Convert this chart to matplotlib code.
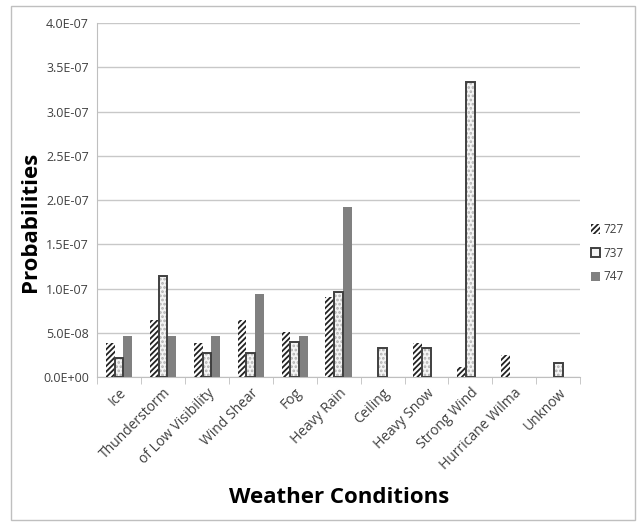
import numpy as np
import matplotlib
matplotlib.use("Agg")
import matplotlib.pyplot as plt
from matplotlib.patches import Rectangle, Patch

plt.rcParams['font.family'] = ['Open Sans', 'DejaVu Sans']
plt.rcParams['hatch.linewidth'] = 1.3

# Данные
categories = ['Ice', 'Thunderstorm', 'of Low Visibility', 'Wind Shear', 'Fog',
              'Heavy Rain', 'Ceiling', 'Heavy Snow', 'Strong Wind',
              'Hurricane Wilma', 'Unknow']
p727 = [3.83e-8, 6.43e-8, 3.83e-8, 6.43e-8, 5.1e-8, 9.0e-8, 0, 3.83e-8, 1.2e-8, 2.45e-8, 0]
p737 = [2.2e-8, 11.4e-8, 2.75e-8, 2.75e-8, 3.95e-8, 9.6e-8, 3.3e-8, 3.3e-8, 33.4e-8, 0, 1.65e-8]
p747 = [4.66e-8, 4.66e-8, 4.66e-8, 9.43e-8, 4.66e-8, 19.2e-8, 0, 0, 0, 0, 0]
y_ticks = [0, 0.5e-7, 1.0e-7, 1.5e-7, 2.0e-7, 2.5e-7, 3.0e-7, 3.5e-7, 4.0e-7]
y_labels = ['0.0E+00', '5.0E-08', '1.0E-07', '1.5E-07', '2.0E-07',
            '2.5E-07', '3.0E-07', '3.5E-07', '4.0E-07']

fig = plt.figure(figsize=(6.39, 5.26), dpi=100)
ax = fig.add_axes([0.152, 0.283, 0.756, 0.673])

# рамка вокруг всей диаграммы
fig.patches.append(Rectangle((11 / 639, 6 / 526), 624 / 639, 514 / 526,
                             transform=fig.transFigure, fill=False,
                             edgecolor='#bfbfbf', linewidth=1))

x = np.arange(len(categories))
w = 0.2
ax.bar(x - w, p727, w, color='white', edgecolor='#222222', hatch='//////',
       linewidth=0, zorder=3)
# 737: светлая точечная заливка + тёмный контур
ax.bar(x, p737, w, color='#f4f4f4', edgecolor='#b0b0b0', hatch='....',
       linewidth=0, zorder=3)
ax.bar(x, p737, w, fill=False, edgecolor='#404040',
       linewidth=[1.4 if v > 0 else 0 for v in p737], zorder=4)
ax.bar(x + w, p747, w, color='#808080', linewidth=0, zorder=3)

ax.set_xlim(-0.5, len(categories) - 0.5)
ax.set_ylim(0, 4.0e-7)
ax.set_yticks(y_ticks)
ax.set_yticklabels(y_labels, fontsize=9, color='#404040')
ax.tick_params(axis='y', length=0, pad=6)
ax.yaxis.grid(True, color='#c8c8c8', linewidth=1, zorder=0)

ax.set_xticks(np.arange(len(categories) + 1) - 0.5, minor=True)
ax.set_xticks(x)
ax.set_xticklabels(categories, rotation=45, ha='right', rotation_mode='anchor',
                   fontsize=10, color='#404040')
ax.tick_params(axis='x', which='major', length=0, pad=6)
ax.tick_params(axis='x', which='minor', length=5, color='#bfbfbf')

for s in ['top', 'right']:
    ax.spines[s].set_visible(False)
ax.spines['left'].set_color('#bfbfbf')
ax.spines['bottom'].set_color('#bfbfbf')

ax.set_ylabel('Probabilities', fontsize=16, fontweight='bold')
ax.yaxis.set_label_coords(-0.116, 0.44)
ax.set_xlabel('Weather Conditions', fontsize=16, fontweight='bold', labelpad=10)

handles = [Patch(facecolor='white', edgecolor='#222222', hatch='//////', linewidth=0),
           Patch(facecolor='#f4f4f4', edgecolor='#404040', linewidth=1.4),
           Patch(facecolor='#808080', linewidth=0)]
leg = ax.legend(handles, ['727', '737', '747'], loc='center left',
                bbox_to_anchor=(1.0, 0.35), frameon=False,
                fontsize=8.5, handlelength=0.8, handleheight=0.8,
                handletextpad=0.3, labelspacing=0.9)
for t in leg.get_texts():
    t.set_color('#404040')

plt.savefig('out.png', dpi=100)
